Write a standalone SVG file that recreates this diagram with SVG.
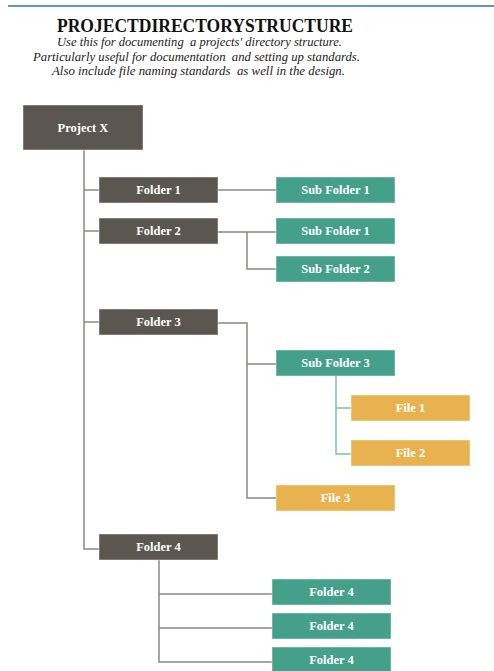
<svg xmlns="http://www.w3.org/2000/svg" width="494" height="671" viewBox="0 0 494 671">
  <style>
    .box rect { stroke: #ffffff; stroke-opacity: 0.45; stroke-width: 1; }
    .dark rect { fill: #5b5750; }
    .teal rect { fill: #45a08b; }
    .gold rect { fill: #e8b24f; }
    .box text { font-family: "Liberation Serif", "Times New Roman", serif; font-weight: bold; font-size: 12.5px; fill: #ffffff; text-anchor: middle; }
    .conn path { fill: none; stroke: #8b8880; stroke-width: 1.5; }
    .conn path.sub { stroke: #7fc0b2; }
    .title { font-family: "Liberation Serif", "Times New Roman", serif; font-weight: bold; font-size: 18.5px; fill: #111111; }
    .note { font-family: "Liberation Serif", "Times New Roman", serif; font-style: italic; font-size: 11.5px; fill: #1a1a1a; white-space: pre; }
  </style>

  <!-- header rule and heading -->
  <line x1="8" y1="6" x2="494" y2="6" stroke="#2e75b6" stroke-width="1.5"/>
  <text class="title" x="57" y="32" textLength="296" lengthAdjust="spacingAndGlyphs">PROJECTDIRECTORYSTRUCTURE</text>
  <text class="note" x="57" y="46" textLength="285" lengthAdjust="spacingAndGlyphs">Use this for documenting  a projects' directory structure.</text>
  <text class="note" x="33" y="61" textLength="327" lengthAdjust="spacingAndGlyphs">Particularly useful for documentation  and setting up standards.</text>
  <text class="note" x="52" y="75" textLength="293" lengthAdjust="spacingAndGlyphs">Also include file naming standards  as well in the design.</text>

  <!-- connectors -->
  <g id="connectors" class="conn">
    <path d="M84 150 V549 H99"/>
    <path d="M84 190 H99"/>
    <path d="M84 231 H99"/>
    <path d="M84 322 H99"/>
    <path d="M218 190 H276"/>
    <path d="M218 232 H276 M247 232 V269 H276"/>
    <path d="M218 323 H247 V498 H276 M247 364 H276"/>
    <path class="sub" d="M336 376 V454 H351 M336 408 H351"/>
    <path d="M159 560 V662 H272 M159 594 H272 M159 628 H272"/>
  </g>

  <!-- nodes -->
  <g id="project-x" class="box dark"><rect x="23" y="105" width="120" height="45"/><text x="83" y="132">Project X</text></g>
  <g id="folder-1" class="box dark"><rect x="99" y="177" width="119" height="26"/><text x="158.5" y="194">Folder 1</text></g>
  <g id="folder-2" class="box dark"><rect x="99" y="218" width="119" height="26"/><text x="158.5" y="235">Folder 2</text></g>
  <g id="folder-3" class="box dark"><rect x="99" y="309" width="119" height="26"/><text x="158.5" y="326">Folder 3</text></g>
  <g id="folder-4" class="box dark"><rect x="99" y="534" width="119" height="26"/><text x="158.5" y="551">Folder 4</text></g>

  <g id="sub-folder-1a" class="box teal"><rect x="276" y="177" width="119" height="26"/><text x="335.5" y="194">Sub Folder 1</text></g>
  <g id="sub-folder-1b" class="box teal"><rect x="276" y="218" width="119" height="26"/><text x="335.5" y="235">Sub Folder 1</text></g>
  <g id="sub-folder-2" class="box teal"><rect x="276" y="256" width="119" height="26"/><text x="335.5" y="273">Sub Folder 2</text></g>
  <g id="sub-folder-3" class="box teal"><rect x="276" y="350" width="119" height="26"/><text x="335.5" y="367">Sub Folder 3</text></g>

  <g id="file-1" class="box gold"><rect x="351" y="395" width="119" height="26"/><text x="410.5" y="412">File 1</text></g>
  <g id="file-2" class="box gold"><rect x="351" y="440" width="119" height="26"/><text x="410.5" y="457">File 2</text></g>
  <g id="file-3" class="box gold"><rect x="276" y="485" width="119" height="26"/><text x="335.5" y="502">File 3</text></g>

  <g id="folder-4a" class="box teal"><rect x="272" y="579" width="119" height="26"/><text x="331.5" y="596">Folder 4</text></g>
  <g id="folder-4b" class="box teal"><rect x="272" y="613" width="119" height="26"/><text x="331.5" y="630">Folder 4</text></g>
  <g id="folder-4c" class="box teal"><rect x="272" y="647" width="119" height="26"/><text x="331.5" y="664">Folder 4</text></g>
</svg>
